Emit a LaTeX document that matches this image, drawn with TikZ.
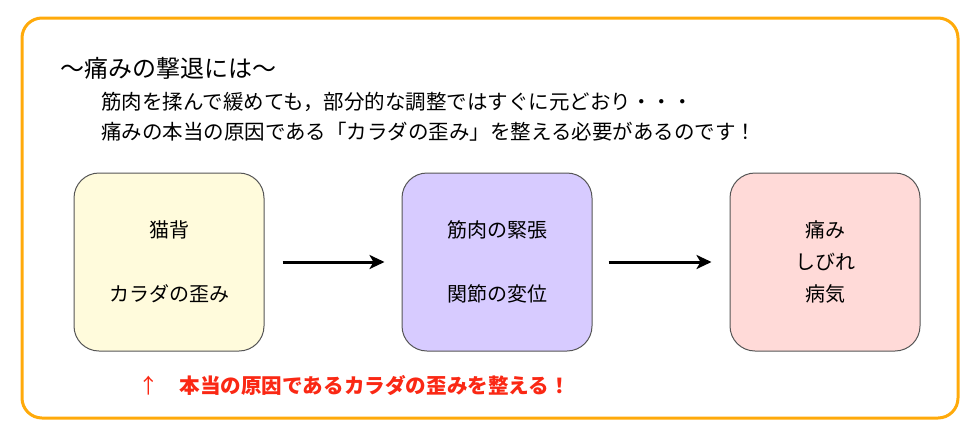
\documentclass[tikz,border=0pt]{standalone}
\usepackage{fontspec}
\setmainfont{Noto Sans CJK JP}
\usetikzlibrary{arrows.meta}
\definecolor{frameorange}{RGB}{255,170,10}
\definecolor{causeyellow}{RGB}{255,251,220}
\definecolor{tensepurple}{RGB}{215,203,255}
\definecolor{painpink}{RGB}{255,218,216}
\definecolor{boxgray}{RGB}{85,85,85}
\definecolor{alertred}{RGB}{250,40,20}
\begin{document}
\begin{tikzpicture}[x=1pt, y=-1pt, >={Stealth[length=15pt,width=14pt,inset=4pt]},
    stagebox/.style={draw=boxgray, line width=1pt, rounded corners=25pt,
        minimum width=190pt, minimum height=178pt, align=center,
        font=\fontsize{20}{32}\selectfont},
    flow/.style={->, line width=3pt},
    plain/.style={anchor=west, inner sep=0pt}]
    \useasboundingbox (0,0) rectangle (978,440);
    % orange frame
    \draw[frameorange, line width=3pt, rounded corners=20pt] (22,18) rectangle (958,418);
    % heading
    \node[plain, font=\fontsize{24}{28}\selectfont] (title) at (60,68) {〜痛みの撃退には〜};
    \node[plain, font=\fontsize{20.5}{24}\selectfont] (lineA) at (101,102)
        {筋肉を揉んで緩めても，部分的な調整ではすぐに元どおり・・・};
    \node[plain, font=\fontsize{20.5}{24}\selectfont] (lineB) at (101,132)
        {痛みの本当の原因である「カラダの歪み」を整える必要があるのです！};
    % stages
    \node[stagebox, fill=causeyellow] (cause) at (169,262) {猫背\\[32pt]カラダの歪み};
    \node[stagebox, fill=tensepurple] (tension) at (497,262) {筋肉の緊張\\[32pt]関節の変位};
    \node[stagebox, fill=painpink] (pain) at (825,262) {痛み\\しびれ\\病気};
    \draw[flow] ([xshift=18pt]cause.east) -- ([xshift=-17pt]tension.west);
    \draw[flow] ([xshift=16pt]tension.east) -- ([xshift=-18pt]pain.west);
    % note
    \node[plain, text=alertred, font=\fontsize{20.6}{24}\selectfont] (note) at (138,385)
        {↑　{\bfseries 本当の原因であるカラダの歪みを整える！}};
\end{tikzpicture}
\end{document}
